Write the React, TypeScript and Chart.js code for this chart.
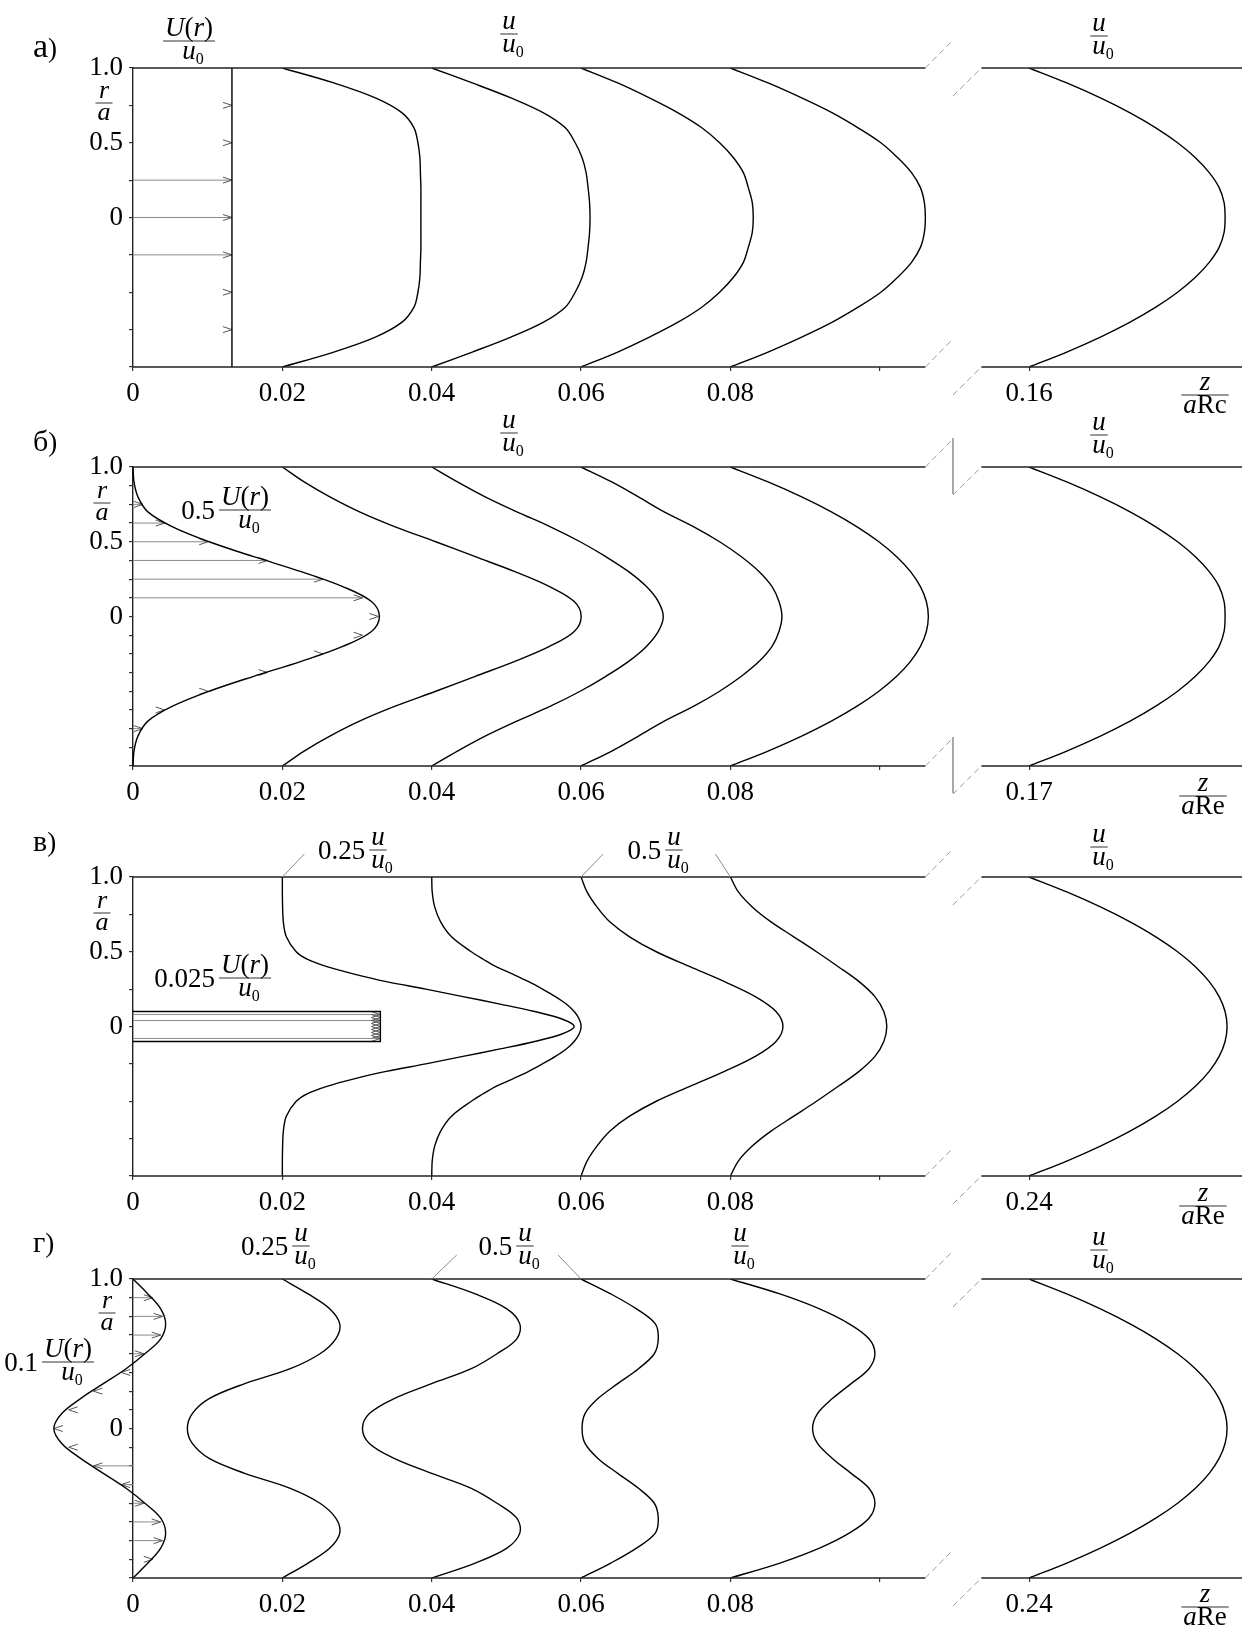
import React, { useEffect, useRef } from 'react';
import { Chart, registerables } from 'chart.js';

Chart.register(...registerables);

const FONT = '"Liberation Serif", "Times New Roman", Times, serif';
const TICK_SIZE = 27;
const W = 1245;
const PAD_TOP = 66;
const PLOT_H = 299;
const X_AXIS_H = 55;
const CANVAS_H = PAD_TOP + PLOT_H + X_AXIS_H;
const Y_AXIS_W = 133;

// drawing scale of the profiles: z/(aRe) units per unit of u/u0
const PROFILE_SCALE = 0.01325;
// broken abscissa
const X_MAX = 0.1485;
const MAIN_END = 0.1061;
const BREAK_MID = 0.1098;
const RIGHT_START = 0.1136;
const BREAK_Z = 0.11;

// radial sample points r/a (profiles are axisymmetric: mirrored to -r)
const R_HALF = [1, 0.9, 0.8, 0.7, 0.6, 0.5, 0.4, 0.3, 0.2, 0.1, 0];
const R_FINE = [1, 0.9, 0.8, 0.7, 0.6, 0.5, 0.45, 0.4, 0.35, 0.3, 0.25, 0.2, 0.15, 0.1, 0.05, 0];

// ---------------- panel а ----------------
const A_STATIONS = [0.02, 0.04, 0.06, 0.08, 0.16];
const A_FACTORS = [1, 1, 1, 1, 1];
const A_U1 = [0, 0.52, 0.94, 1.21, 1.33, 1.37, 1.39, 1.395, 1.4, 1.4, 1.4];
const A_U2 = [0, 0.41, 0.8, 1.13, 1.35, 1.45, 1.52, 1.56, 1.58, 1.595, 1.6];
const A_U3 = [0, 0.37, 0.69, 0.98, 1.22, 1.4, 1.54, 1.64, 1.69, 1.73, 1.74];
const A_U4 = [0, 0.38, 0.72, 1.03, 1.29, 1.52, 1.69, 1.83, 1.92, 1.96, 1.97];
const A_U5 = [0, 0.38, 0.72, 1.02, 1.28, 1.5, 1.68, 1.82, 1.92, 1.97, 1.98];
const A_INFLOW = [1, 1, 1, 1, 1, 1, 1, 1, 1, 1, 1];
const A_ARROW_R = [0.75, 0.5, 0.25, 0, -0.25, -0.5, -0.75];
const A_ARROW_U = [1, 1, 1, 1, 1, 1, 1];
const A_ARROW_SHAFT = [false, false, true, true, true, false, false];
const A_X_TICKS = [0, 0.02, 0.04, 0.06, 0.08, 0.1, 0.16];
const A_X_LABELS = ['0', '0.02', '0.04', '0.06', '0.08', '', '0.16'];

// ---------------- panel б ----------------
const B_STATIONS = [0.02, 0.04, 0.06, 0.08, 0.17];
const B_FACTORS = [1, 1, 1, 1, 1];
const B_U1 = [0, 0.22, 0.48, 0.78, 1.14, 1.55, 1.95, 2.35, 2.7, 2.95, 3.02];
const B_U2 = [0, 0.26, 0.54, 0.86, 1.2, 1.5, 1.76, 1.99, 2.17, 2.29, 2.34];
const B_U3 = [0, 0.31, 0.58, 0.84, 1.14, 1.4, 1.62, 1.8, 1.93, 2.0, 2.03];
const B_U4 = [0, 0.38, 0.72, 1.02, 1.28, 1.5, 1.68, 1.82, 1.92, 1.98, 2.0];
const B_U5 = [0, 0.38, 0.72, 1.02, 1.28, 1.5, 1.68, 1.82, 1.92, 1.97, 1.98];
const B_INFLOW = [0, 0.02, 0.1, 0.3, 0.8, 1.54, 2.44, 3.4, 4.24, 4.82, 4.98];
const B_INFLOW_FACTOR = 0.5;
const B_ARROW_R = [0.75, 0.625, 0.5, 0.375, 0.25, 0.125, 0, -0.125, -0.25, -0.375, -0.5, -0.625, -0.75];
const B_ARROW_U = [0.2, 0.64, 1.52, 2.72, 3.84, 4.64, 4.96, 4.64, 3.84, 2.72, 1.52, 0.64, 0.2];
const B_ARROW_SHAFT = [true, true, true, true, true, true, false, false, false, false, false, false, true];
const B_X_TICKS = [0, 0.02, 0.04, 0.06, 0.08, 0.1, 0.17];
const B_X_LABELS = ['0', '0.02', '0.04', '0.06', '0.08', '', '0.17'];

// ---------------- panel в ----------------
const V_STATIONS = [0.02, 0.04, 0.06, 0.08, 0.24];
const V_FACTORS = [0.25, 0.25, 0.5, 0.5, 1];
const V_U1 = [0, 0, 0.01, 0.04, 0.16, 0.56, 1.0, 1.8, 2.9, 4.2, 5.8, 7.3, 8.8, 10.2, 11.3, 11.8]; // on R_FINE
const V_U2 = [0, 0.02, 0.12, 0.36, 0.8, 1.6, 2.08, 2.6, 3.28, 3.92, 4.48, 5.0, 5.44, 5.76, 5.96, 6.04]; // on R_FINE
const V_U3 = [0, 0.12, 0.32, 0.58, 0.98, 1.52, 2.2, 2.9, 3.52, 3.94, 4.08]; // on R_HALF
const V_U4 = [0, 0.16, 0.44, 0.82, 1.28, 1.74, 2.18, 2.6, 2.92, 3.1, 3.16]; // on R_HALF
const V_U5 = [0, 0.38, 0.72, 1.02, 1.28, 1.5, 1.68, 1.82, 1.92, 1.98, 2.0]; // on R_HALF
const V_INFLOW_R = [0.1, 0.1, -0.1, -0.1];
const V_INFLOW_U = [0, 100, 100, 0];
const V_INFLOW_FACTOR = 0.025;
const V_ARROW_R = [0.08, 0.06, 0.04, 0.02, 0, -0.02, -0.04, -0.06, -0.08];
const V_ARROW_U = [100, 100, 100, 100, 100, 100, 100, 100, 100];
const V_ARROW_SHAFT = [true, false, true, false, false, false, false, false, true];
const V_X_TICKS = [0, 0.02, 0.04, 0.06, 0.08, 0.1, 0.24];
const V_X_LABELS = ['0', '0.02', '0.04', '0.06', '0.08', '', '0.24'];

// ---------------- panel г ----------------
const G_STATIONS = [0.02, 0.04, 0.06, 0.08, 0.24];
const G_FACTORS = [0.25, 0.5, 0.5, 1, 1];
const G_U1 = [0, 1.04, 1.92, 2.32, 2.16, 1.52, 0.32, -1.52, -2.96, -3.64, -3.84];
const G_U2 = [0, 0.88, 1.52, 1.78, 1.72, 1.32, 0.8, 0, -0.76, -1.26, -1.4];
const G_U3 = [0, 0.6, 1.12, 1.5, 1.56, 1.48, 1.16, 0.74, 0.34, 0.08, 0.02];
const G_U4 = [0, 0.5, 0.9, 1.2, 1.4, 1.46, 1.4, 1.22, 1.03, 0.88, 0.83];
const G_U5 = [0, 0.38, 0.72, 1.02, 1.28, 1.5, 1.68, 1.82, 1.92, 1.98, 2.0];
const G_INFLOW = [0, 1.5, 2.8, 3.3, 2.8, 1.2, -0.7, -3.0, -5.3, -7.2, -8.0];
const G_INFLOW_FACTOR = 0.1;
const G_ARROW_R = [0.875, 0.75, 0.625, 0.5, 0.375, 0.25, 0.125, 0, -0.125, -0.25, -0.375, -0.5, -0.625, -0.75, -0.875];
const G_ARROW_U = [2, 3, 2.8, 1.1, -1.2, -4, -6.5, -8, -6.5, -4, -1.2, 1.1, 2.8, 3, 2];
const G_ARROW_SHAFT = [true, true, true, true, false, false, false, false, false, true, true, true, true, true, false];
const G_X_TICKS = [0, 0.02, 0.04, 0.06, 0.08, 0.1, 0.24];
const G_X_LABELS = ['0', '0.02', '0.04', '0.06', '0.08', '', '0.24'];

// ---------------- text pieces ----------------
type Seg = { t: string; it?: boolean; sub?: boolean; size?: number };
const NUM_u: Seg[] = [{ t: 'u', it: true }];
const DEN_u0: Seg[] = [{ t: 'u', it: true }, { t: '0', sub: true }];
const NUM_Ur: Seg[] = [{ t: 'U', it: true }, { t: '(' }, { t: 'r', it: true }, { t: ')' }];
const NUM_r: Seg[] = [{ t: 'r', it: true }];
const DEN_a: Seg[] = [{ t: 'a', it: true }];
const NUM_z: Seg[] = [{ t: 'z', it: true }];
const DEN_aRe: Seg[] = [{ t: 'a', it: true }, { t: 'Re' }];
const DEN_aRc: Seg[] = [{ t: 'a', it: true }, { t: 'Rc' }];

type Label =
  | { kind: 'text'; segs: Seg[]; x: number; y: number; size: number }
  | { kind: 'frac'; num: Seg[]; den: Seg[]; x: number; y: number; size: number; prefix?: string };

type PanelSpec = {
  key: string;
  top: number;
  shift: number;
  profileR: number[][];
  stations: number[];
  factors: number[];
  profiles: number[][];
  inflowR: number[];
  inflowU: number[];
  inflowFactor: number;
  inflowMirror: boolean;
  inflowTension: number;
  arrowR: number[];
  arrowU: number[];
  arrowShaft: boolean[];
  xTicks: number[];
  xLabels: string[];
  yStep: number;
  yLabeled: number[];
  breakBars: boolean;
  labels: Label[];
  leaders: { z: number; dx: number; dy: number }[];
};

const letter = (ch: string, x: number, y: number, size: number): Label => ({
  kind: 'text',
  segs: [{ t: ch, size }, { t: ')', size: 27 }],
  x,
  y,
  size: 27,
});

const PANELS: PanelSpec[] = [
  {
    key: 'a',
    top: 68,
    shift: 0.04,
    profileR: [R_HALF, R_HALF, R_HALF, R_HALF, R_HALF],
    stations: A_STATIONS,
    factors: A_FACTORS,
    profiles: [A_U1, A_U2, A_U3, A_U4, A_U5],
    inflowR: R_HALF,
    inflowU: A_INFLOW,
    inflowFactor: 1,
    inflowMirror: true,
    inflowTension: 0,
    arrowR: A_ARROW_R,
    arrowU: A_ARROW_U,
    arrowShaft: A_ARROW_SHAFT,
    xTicks: A_X_TICKS,
    xLabels: A_X_LABELS,
    yStep: 0.25,
    yLabeled: [1, 0.5, 0],
    breakBars: false,
    labels: [
      letter('а', 33, 57, 34),
      { kind: 'frac', num: NUM_Ur, den: DEN_u0, x: 189, y: 41, size: 27 },
      { kind: 'frac', num: NUM_u, den: DEN_u0, x: 509, y: 34, size: 27 },
      { kind: 'frac', num: NUM_u, den: DEN_u0, x: 1099, y: 36, size: 27 },
      { kind: 'frac', num: NUM_r, den: DEN_a, x: 104, y: 103, size: 26 },
      { kind: 'frac', num: NUM_z, den: DEN_aRc, x: 1205, y: 395, size: 27 },
    ],
    leaders: [],
  },
  {
    key: 'b',
    top: 467,
    shift: 0.05,
    profileR: [R_HALF, R_HALF, R_HALF, R_HALF, R_HALF],
    stations: B_STATIONS,
    factors: B_FACTORS,
    profiles: [B_U1, B_U2, B_U3, B_U4, B_U5],
    inflowR: R_HALF,
    inflowU: B_INFLOW,
    inflowFactor: B_INFLOW_FACTOR,
    inflowMirror: true,
    inflowTension: 0.35,
    arrowR: B_ARROW_R,
    arrowU: B_ARROW_U,
    arrowShaft: B_ARROW_SHAFT,
    xTicks: B_X_TICKS,
    xLabels: B_X_LABELS,
    yStep: 0.125,
    yLabeled: [1, 0.5, 0],
    breakBars: true,
    labels: [
      letter('б', 33, 451, 30),
      { kind: 'frac', num: NUM_u, den: DEN_u0, x: 509, y: 433, size: 27 },
      { kind: 'frac', num: NUM_u, den: DEN_u0, x: 1099, y: 435, size: 27 },
      { kind: 'frac', num: NUM_Ur, den: DEN_u0, x: 245, y: 510, size: 27, prefix: '0.5' },
      { kind: 'frac', num: NUM_r, den: DEN_a, x: 102, y: 503, size: 26 },
      { kind: 'frac', num: NUM_z, den: DEN_aRe, x: 1203, y: 796, size: 27 },
    ],
    leaders: [],
  },
  {
    key: 'v',
    top: 877,
    shift: 0.12,
    profileR: [R_FINE, R_FINE, R_HALF, R_HALF, R_HALF],
    stations: V_STATIONS,
    factors: V_FACTORS,
    profiles: [V_U1, V_U2, V_U3, V_U4, V_U5],
    inflowR: V_INFLOW_R,
    inflowU: V_INFLOW_U,
    inflowFactor: V_INFLOW_FACTOR,
    inflowMirror: false,
    inflowTension: 0,
    arrowR: V_ARROW_R,
    arrowU: V_ARROW_U,
    arrowShaft: V_ARROW_SHAFT,
    xTicks: V_X_TICKS,
    xLabels: V_X_LABELS,
    yStep: 0.25,
    yLabeled: [1, 0.5, 0],
    breakBars: false,
    labels: [
      letter('в', 33, 851, 30),
      { kind: 'frac', num: NUM_u, den: DEN_u0, x: 378, y: 850, size: 27, prefix: '0.25' },
      { kind: 'frac', num: NUM_u, den: DEN_u0, x: 674, y: 850, size: 27, prefix: '0.5' },
      { kind: 'frac', num: NUM_u, den: DEN_u0, x: 1099, y: 847, size: 27 },
      { kind: 'frac', num: NUM_Ur, den: DEN_u0, x: 245, y: 978, size: 27, prefix: '0.025' },
      { kind: 'frac', num: NUM_r, den: DEN_a, x: 102, y: 913, size: 26 },
      { kind: 'frac', num: NUM_z, den: DEN_aRe, x: 1203, y: 1206, size: 27 },
    ],
    leaders: [
      { z: 0.02, dx: 22, dy: -23 },
      { z: 0.06, dx: 22, dy: -23 },
      { z: 0.08, dx: -15, dy: -23 },
    ],
  },
  {
    key: 'g',
    top: 1279,
    shift: 0.12,
    profileR: [R_HALF, R_HALF, R_HALF, R_HALF, R_HALF],
    stations: G_STATIONS,
    factors: G_FACTORS,
    profiles: [G_U1, G_U2, G_U3, G_U4, G_U5],
    inflowR: R_HALF,
    inflowU: G_INFLOW,
    inflowFactor: G_INFLOW_FACTOR,
    inflowMirror: true,
    inflowTension: 0.35,
    arrowR: G_ARROW_R,
    arrowU: G_ARROW_U,
    arrowShaft: G_ARROW_SHAFT,
    xTicks: G_X_TICKS,
    xLabels: G_X_LABELS,
    yStep: 0.125,
    yLabeled: [1, 0],
    breakBars: false,
    labels: [
      letter('г', 33, 1252, 30),
      { kind: 'frac', num: NUM_u, den: DEN_u0, x: 301, y: 1246, size: 27, prefix: '0.25' },
      { kind: 'frac', num: NUM_u, den: DEN_u0, x: 525, y: 1246, size: 27, prefix: '0.5' },
      { kind: 'frac', num: NUM_u, den: DEN_u0, x: 740, y: 1246, size: 27 },
      { kind: 'frac', num: NUM_u, den: DEN_u0, x: 1099, y: 1250, size: 27 },
      { kind: 'frac', num: NUM_Ur, den: DEN_u0, x: 68, y: 1362, size: 27, prefix: '0.1' },
      { kind: 'frac', num: NUM_r, den: DEN_a, x: 107, y: 1313, size: 26 },
      { kind: 'frac', num: NUM_z, den: DEN_aRe, x: 1205, y: 1607, size: 27 },
    ],
    leaders: [
      { z: 0.04, dx: 25, dy: -24 },
      { z: 0.06, dx: -23, dy: -24 },
    ],
  },
];

// ---------------- helpers ----------------
function profilePoints(R: number[], u: number[], station: number, factor: number, shift: number) {
  const z0 = station > BREAK_Z ? station - shift : station;
  const pts: { x: number; y: number }[] = [];
  R.forEach((r, i) => pts.push({ x: z0 + PROFILE_SCALE * factor * u[i], y: r }));
  for (let i = R.length - 2; i >= 0; i--) pts.push({ x: z0 + PROFILE_SCALE * factor * u[i], y: -R[i] });
  return pts;
}

function segFont(s: Seg, size: number) {
  const sz = s.size ?? (s.sub ? Math.round(size * 0.6) : size);
  return `${s.it ? 'italic ' : ''}${sz}px ${FONT}`;
}
function segsWidth(ctx: CanvasRenderingContext2D, segs: Seg[], size: number, skipSub = false) {
  let w = 0;
  for (const s of segs) {
    if (skipSub && s.sub) continue;
    ctx.font = segFont(s, size);
    w += ctx.measureText(s.t).width;
  }
  return w;
}
function drawSegs(ctx: CanvasRenderingContext2D, segs: Seg[], x: number, y: number, size: number) {
  let cx = x;
  for (const s of segs) {
    ctx.font = segFont(s, size);
    ctx.fillText(s.t, cx, s.sub ? y + size * 0.2 : y);
    cx += ctx.measureText(s.t).width;
  }
}

function overlayPlugin(p: PanelSpec) {
  return {
    id: 'overlay_' + p.key,
    beforeDatasetsDraw(chart: any) {
      const ctx: CanvasRenderingContext2D = chart.ctx;
      const xs = chart.scales.x;
      const ys = chart.scales.y;
      ctx.save();
      p.arrowR.forEach((r, i) => {
        const x0 = xs.getPixelForValue(0);
        const x1 = xs.getPixelForValue(PROFILE_SCALE * p.inflowFactor * p.arrowU[i]);
        const y = ys.getPixelForValue(r);
        const dir = x1 >= x0 ? 1 : -1;
        if (p.arrowShaft[i]) {
          ctx.strokeStyle = '#8a8a8a';
          ctx.lineWidth = 1;
          ctx.beginPath();
          ctx.moveTo(x0, y);
          ctx.lineTo(x1, y);
          ctx.stroke();
        }
        ctx.strokeStyle = '#555';
        ctx.lineWidth = 1;
        ctx.beginPath();
        ctx.moveTo(x1 - dir * 9, y - 3);
        ctx.lineTo(x1, y);
        ctx.lineTo(x1 - dir * 9, y + 3);
        ctx.stroke();
      });
      ctx.restore();
    },
    afterDraw(chart: any) {
      const ctx: CanvasRenderingContext2D = chart.ctx;
      const xs = chart.scales.x;
      const ys = chart.scales.y;
      const X = (v: number) => xs.getPixelForValue(v);
      const Y = (v: number) => ys.getPixelForValue(v);
      const off = p.top - PAD_TOP;
      const line = (a: number, b: number, c: number, d: number) => {
        ctx.beginPath();
        ctx.moveTo(a, b);
        ctx.lineTo(c, d);
        ctx.stroke();
      };
      ctx.save();
      // frame lines (r/a = ±1), broken
      ctx.strokeStyle = '#222';
      ctx.lineWidth = 1.4;
      for (const r of [1, -1]) {
        line(X(0), Y(r), X(MAIN_END), Y(r));
        line(X(RIGHT_START), Y(r), X(X_MAX), Y(r));
      }
      // break marks
      ctx.strokeStyle = '#9a9a9a';
      ctx.lineWidth = 1;
      ctx.setLineDash([6, 4]);
      const d = 28;
      for (const r of [1, -1]) {
        const y0 = Y(r);
        line(X(MAIN_END), y0, X(BREAK_MID), y0 - d);
        line(X(BREAK_MID), y0 + d, X(RIGHT_START), y0);
      }
      ctx.setLineDash([]);
      if (p.breakBars) {
        ctx.strokeStyle = '#555';
        for (const r of [1, -1]) line(X(BREAK_MID), Y(r) - 29, X(BREAK_MID), Y(r) + 27);
      }
      // leader lines
      ctx.strokeStyle = '#8a8a8a';
      ctx.lineWidth = 1;
      for (const l of p.leaders) {
        const x0 = X(l.z);
        const y0 = Y(1);
        line(x0, y0, x0 + l.dx, y0 + l.dy);
      }
      // labels
      ctx.fillStyle = '#000';
      ctx.textAlign = 'left';
      ctx.textBaseline = 'alphabetic';
      for (const lab of p.labels) {
        if (lab.kind === 'text') {
          drawSegs(ctx, lab.segs, lab.x, lab.y - off, lab.size);
        } else {
          const ly = lab.y - off;
          const wn = segsWidth(ctx, lab.num, lab.size);
          const wdMain = segsWidth(ctx, lab.den, lab.size, true);
          const lw = Math.max(wn, wdMain) + 4;
          ctx.strokeStyle = '#333';
          ctx.lineWidth = 1;
          line(lab.x - lw / 2, ly, lab.x + lw / 2, ly);
          drawSegs(ctx, lab.num, lab.x - wn / 2, ly - lab.size * 0.2, lab.size);
          drawSegs(ctx, lab.den, lab.x - wdMain / 2, ly + lab.size * 0.66, lab.size);
          if (lab.prefix) {
            ctx.font = `${lab.size}px ${FONT}`;
            const pw = ctx.measureText(lab.prefix).width;
            ctx.fillText(lab.prefix, lab.x - lw / 2 - 4 - pw, ly + lab.size * 0.33);
          }
        }
      }
      ctx.restore();
    },
  };
}

function buildConfig(p: PanelSpec) {
  const datasets: any[] = p.profiles.map((u, i) => ({
    data: profilePoints(p.profileR[i], u, p.stations[i], p.factors[i], p.shift),
    borderColor: '#000',
    borderWidth: 1.4,
    pointRadius: 0,
    showLine: true,
    tension: 0.35,
    fill: false,
  }));
  const inflow = p.inflowMirror
    ? profilePoints(p.inflowR, p.inflowU, 0, p.inflowFactor, p.shift)
    : p.inflowR.map((r, i) => ({ x: PROFILE_SCALE * p.inflowFactor * p.inflowU[i], y: r }));
  datasets.push({
    data: inflow,
    borderColor: '#000',
    borderWidth: 1.4,
    pointRadius: 0,
    showLine: true,
    tension: p.inflowTension,
    fill: false,
    clip: false,
  });
  const isLabeled = (v: number) => p.yLabeled.some((t) => Math.abs(t - v) < 1e-9);
  return {
    type: 'scatter',
    data: { datasets },
    options: {
      responsive: false,
      animation: false,
      devicePixelRatio: 1,
      events: [],
      layout: { padding: { top: PAD_TOP, left: 0, right: 3, bottom: 0 } },
      plugins: { legend: { display: false }, tooltip: { enabled: false } },
      scales: {
        x: {
          type: 'linear',
          position: 'bottom',
          min: 0,
          max: X_MAX,
          afterFit: (s: any) => {
            s.height = X_AXIS_H;
          },
          afterBuildTicks: (s: any) => {
            s.ticks = p.xTicks.map((v) => ({ value: v > BREAK_Z ? v - p.shift : v }));
          },
          ticks: {
            autoSkip: false,
            maxRotation: 0,
            minRotation: 0,
            padding: 7,
            color: '#000',
            font: { family: FONT, size: TICK_SIZE },
            callback: (_v: any, i: number) => p.xLabels[i],
          },
          grid: { drawOnChartArea: false, drawTicks: true, tickLength: 4, color: '#333', lineWidth: 1.2 },
          border: { display: false },
        },
        y: {
          type: 'linear',
          position: 'left',
          min: -1,
          max: 1,
          afterFit: (s: any) => {
            s.width = Y_AXIS_W;
          },
          ticks: {
            stepSize: p.yStep,
            autoSkip: false,
            padding: 6,
            color: '#000',
            font: { family: FONT, size: TICK_SIZE },
            callback: (v: any) => {
              const n = Number(v);
              if (!isLabeled(n)) return '';
              if (Math.abs(n - 1) < 1e-9) return '1.0';
              if (Math.abs(n - 0.5) < 1e-9) return '0.5';
              return '0';
            },
          },
          grid: { drawOnChartArea: false, drawTicks: true, tickLength: 4, color: '#333', lineWidth: 1.2 },
          border: { display: true, color: '#222', width: 1.4 },
        },
      },
    },
    plugins: [overlayPlugin(p)],
  };
}

function Panel({ spec }: { spec: PanelSpec }) {
  const ref = useRef<HTMLCanvasElement | null>(null);
  useEffect(() => {
    if (!ref.current) return;
    const chart = new Chart(ref.current, buildConfig(spec) as any);
    return () => chart.destroy();
  }, [spec]);
  return (
    <canvas
      ref={ref}
      width={W}
      height={CANVAS_H}
      style={{ position: 'absolute', left: 0, top: spec.top - PAD_TOP, width: W, height: CANVAS_H, display: 'block' }}
    />
  );
}

export default function App() {
  return (
    <div style={{ position: 'absolute', left: 0, top: 0, width: W, height: 1633, background: '#fff', overflow: 'hidden' }}>
      {PANELS.map((p) => (
        <Panel key={p.key} spec={p} />
      ))}
    </div>
  );
}
